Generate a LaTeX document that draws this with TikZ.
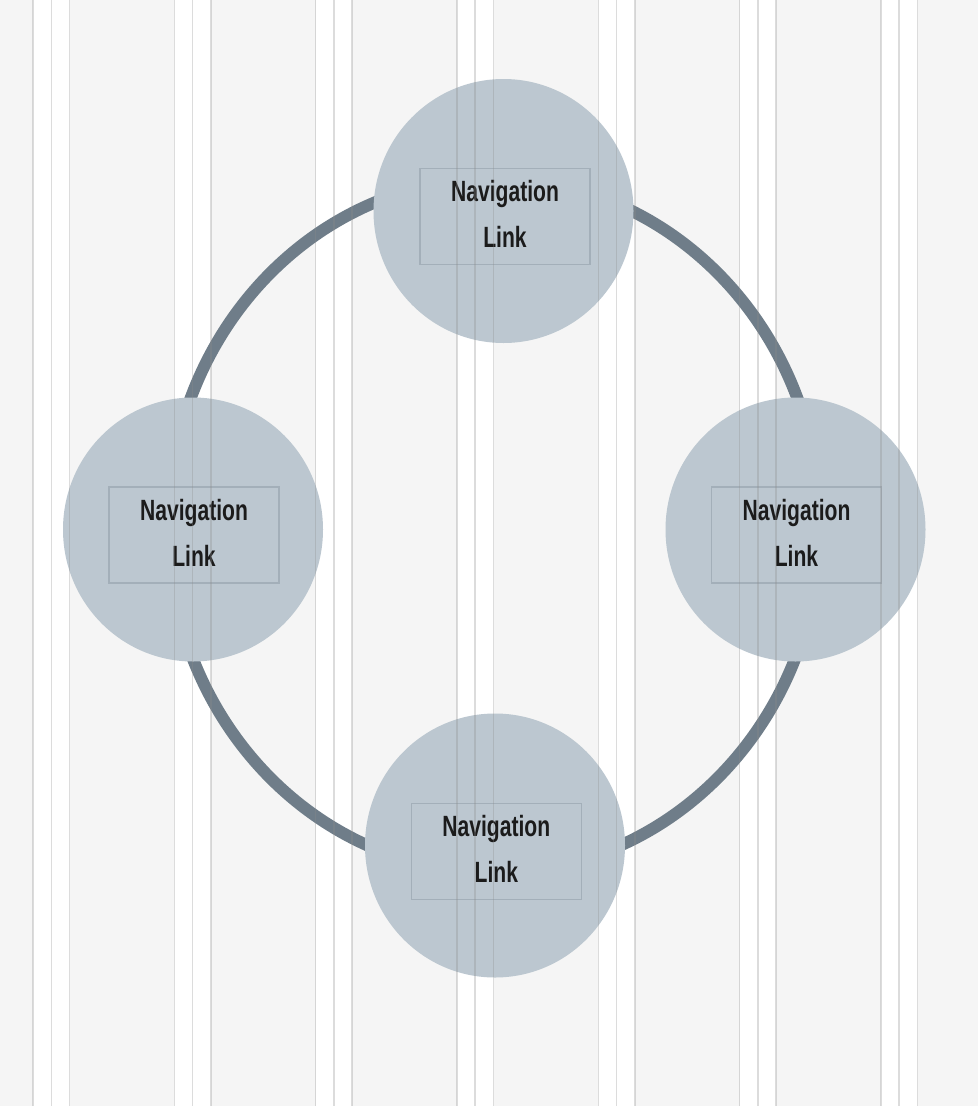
\documentclass[tikz,border=0pt]{standalone}
\usepackage{fontspec}
\setmainfont{Liberation Sans}[FakeStretch=0.72]
\usetikzlibrary{shapes.geometric}
\definecolor{pagebg}{HTML}{F5F5F5}
\definecolor{ringc}{HTML}{6F7D89}
\definecolor{navfill}{HTML}{BCC7D0}
\definecolor{boxline}{HTML}{A3AFB9}
\definecolor{navtext}{HTML}{1B1B1B}
\tikzset{%
    navc/.style={ellipse,inner sep=0pt,minimum width=260pt,minimum height=264pt,fill=navfill},
    navlink/.style={rectangle,draw=boxline,line width=1.2pt,minimum width=170pt,minimum height=96pt,
        align=center,text depth=5pt,text=navtext,font=\bfseries\fontsize{29.3}{46}\selectfont},
    ring/.style={draw=ringc,line width=12pt},
    gline/.style={draw=black!45,opacity=0.3,line width=1.6pt}
}

\begin{document}
\begin{tikzpicture}[x=1pt,y=-1pt]
        \useasboundingbox (0,0) rectangle (978,1106);
        \fill[pagebg] (0,0) rectangle (978,1106);

        % columns
        \foreach \i in {0,...,6}
            \fill[white] ({33+141.33*\i},0) rectangle ({69.6+141.33*\i},1106);

        \coordinate (hub) at (494,525.5);
        \draw[ring] (hub) ellipse [x radius=326, y radius=347];

        \node[navc] (top) at (503.5,211){};
        \node[navc] (left) at (193,529.5){};
        \node[navc] (right) at (795.5,529.5){};
        \node[navc] (bottom) at (495,845.5){};

        \node[navlink] (toplink) at (505,216.7){Navigation\\Link};
        \node[navlink] (leftlink) at (194,535){Navigation\\Link};
        \node[navlink] (rightlink) at (796.5,535){Navigation\\Link};
        \node[navlink] (bottomlink) at (496.3,851.3){Navigation\\Link};

        % grid lines on top
        \foreach \i in {0,...,6}
            \foreach \d in {0,18.3,36.6}
                \draw[gline] ({33+141.33*\i+\d},0) -- ++(0,1106);
    \end{tikzpicture}
\end{document}
